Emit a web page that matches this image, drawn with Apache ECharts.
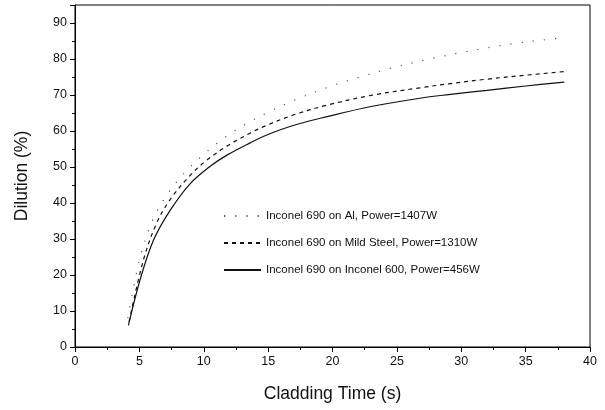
<!DOCTYPE html>
<html><head><meta charset="utf-8">
<script src="https://cdn.jsdelivr.net/npm/echarts@6/dist/echarts.min.js"></script>
<style>html,body{margin:0;padding:0;background:#fff}#c{width:605px;height:410px}</style>
</head><body><div id="c"></div>
<script>
var seriesNames = ["Inconel 690 on Al, Power=1407W", "Inconel 690 on Mild Steel, Power=1310W", "Inconel 690 on Inconel 600, Power=456W"];
var alX = [4.1, 5.0, 6.0, 7.0, 8.0, 9.0, 10.0, 11.0, 12.3, 13.5, 14.9, 17.0, 20.0, 22.4, 24.6, 27.8, 30.0, 32.0, 34.3, 36.4, 38.0];
var alY = [8, 24, 35, 41.5, 46.3, 50.2, 53.5, 56.5, 59.8, 62.4, 65.0, 68.5, 72.6, 75.3, 77.5, 80.2, 81.8, 83.1, 84.4, 85.3, 86.0];
var msX = [4.2, 5.3, 6.35, 7.4, 8.9, 10.2, 11.8, 13.6, 14.9, 17.0, 19.6, 23.0, 26.8, 29.0, 32.0, 35.0, 38.0];
var msY = [7, 24, 34.5, 41, 47.5, 51.8, 55.8, 59.4, 61.6, 64.5, 67.2, 69.9, 72.0, 73.1, 74.4, 75.5, 76.5];
var inX = [4.15, 5.05, 6.1, 7.4, 8.9, 10.5, 11.8, 13.6, 14.9, 17.0, 19.6, 23.0, 26.8, 29.0, 32.0, 35.0, 38.0];
var inY = [6, 18.6, 29.7, 38, 45.2, 50.2, 53.3, 56.7, 58.9, 61.6, 64, 66.8, 69.1, 70.1, 71.3, 72.5, 73.6];
var xTicks = [0, 5, 10, 15, 20, 25, 30, 35, 40];
var yTicks = [0, 10, 20, 30, 40, 50, 60, 70, 80, 90];

function pairs(xs, ys){ return xs.map(function(x,i){ return [x, ys[i]]; }); }
var font = 'Liberation Sans, Arial, sans-serif';
var chart = echarts.init(document.getElementById('c'), null, {renderer:'canvas'});
chart.setOption({
  animation: false,
  backgroundColor: '#fff',
  grid: {left: 75, right: 15, top: 5, bottom: 63, show: true, borderColor: '#000', borderWidth: 1},
  legend: {
    orient: 'vertical', left: 218, top: 205,
    itemWidth: 37, itemHeight: 14, itemGap: 15,
    itemStyle: {opacity: 0},
    textStyle: {fontFamily: font, fontSize: 11.5, color: '#111'},
    data: seriesNames
  },
  xAxis: {
    type: 'value', min: 0, max: 40, interval: 5,
    name: 'Cladding Time (s)', nameLocation: 'middle', nameGap: 38,
    nameTextStyle: {fontFamily: font, fontSize: 17.5, color: '#111'},
    axisLine: {lineStyle: {color: '#000', width: 1}},
    axisTick: {show: true, length: 5, inside: false, lineStyle: {color: '#000'}},
    minorTick: {show: true, splitNumber: 2, length: 3, lineStyle: {color: '#000'}},
    splitLine: {show: false},
    axisLabel: {fontFamily: font, fontSize: 12.5, color: '#111', margin: 8,
      formatter: function(v){ return xTicks.indexOf(v) >= 0 ? String(v) : ''; }}
  },
  yAxis: {
    type: 'value', min: 0, max: 95, interval: 10,
    name: 'Dilution (%)', nameLocation: 'middle', nameGap: 44,
    nameTextStyle: {fontFamily: font, fontSize: 17.5, color: '#111'},
    axisLine: {show: true, lineStyle: {color: '#000', width: 1}},
    axisTick: {show: true, length: 5, lineStyle: {color: '#000'}},
    minorTick: {show: true, splitNumber: 2, length: 3, lineStyle: {color: '#000'}},
    splitLine: {show: false},
    axisLabel: {fontFamily: font, fontSize: 12.5, color: '#111', margin: 8,
      formatter: function(v){ return yTicks.indexOf(v) >= 0 ? String(v) : ''; }}
  },
  series: [
    {name: seriesNames[0], type: 'line', data: pairs(alX, alY), smooth: 0.35, symbol: 'none', showSymbol: false,
     lineStyle: {color: '#555', width: 1.2, type: [1.2, 10]}, itemStyle: {color: '#555'}},
    {name: seriesNames[1], type: 'line', data: pairs(msX, msY), smooth: 0.35, symbol: 'none', showSymbol: false,
     lineStyle: {color: '#111', width: 1.2, type: [4, 4]}, itemStyle: {color: '#111'}},
    {name: seriesNames[2], type: 'line', data: pairs(inX, inY), smooth: 0.35, symbol: 'none', showSymbol: false,
     lineStyle: {color: '#111', width: 1.2, type: 'solid'}, itemStyle: {color: '#111'}}
  ]
});
</script></body></html>
